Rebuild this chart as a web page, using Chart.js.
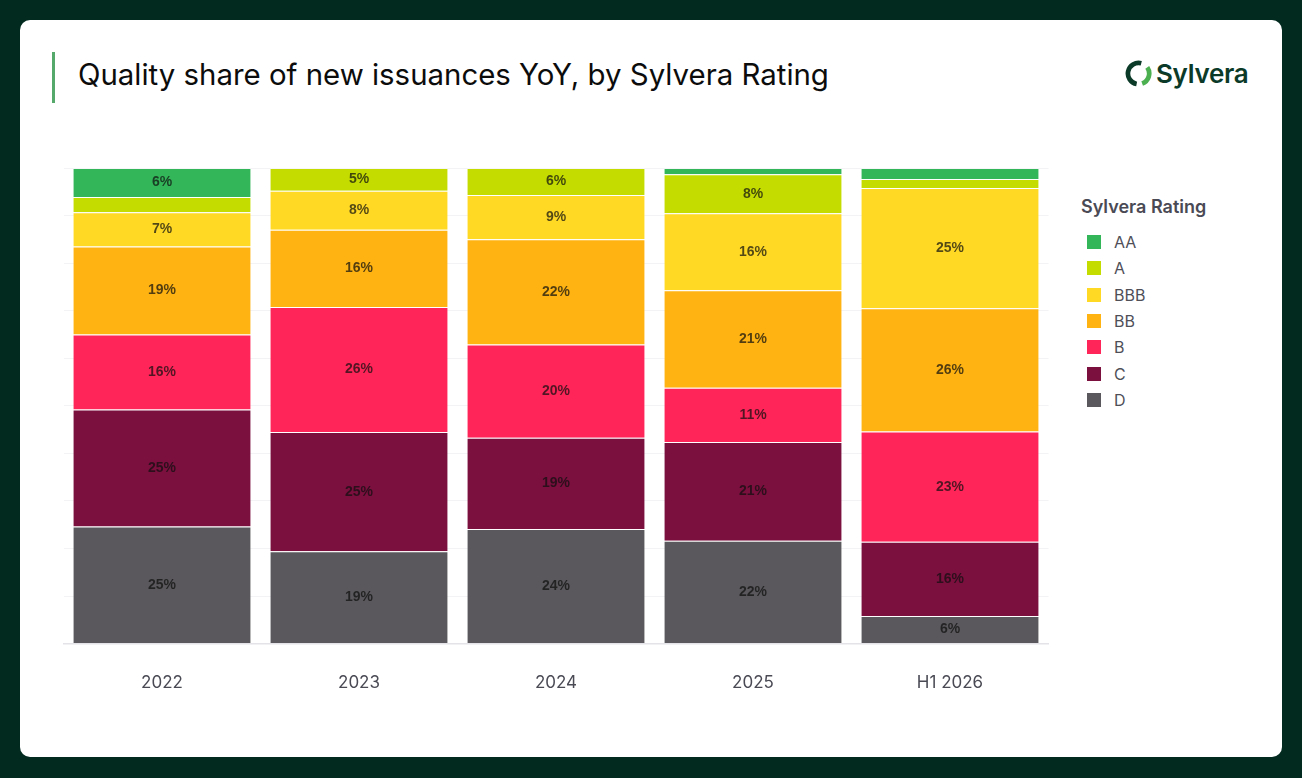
<!DOCTYPE html>
<html>
<head>
<meta charset="utf-8">
<script src="https://cdn.jsdelivr.net/npm/chart.js@4.4.1/dist/chart.umd.min.js"></script>
<style>
  html, body { margin: 0; padding: 0; }
  body { width: 1302px; height: 778px; background: #022a1f; position: relative; overflow: hidden; font-family: Inter, "Noto Sans", sans-serif; }
  #card { position: absolute; left: 20px; top: 20px; width: 1262px; height: 737px; background: #ffffff; border-radius: 10px; }
  #accent { position: absolute; left: 52px; top: 52px; width: 3px; height: 51px; background: #55a96b; }
  #title { position: absolute; left: 78px; top: 57px; font-size: 29.4px; font-weight: 400; color: #0c0c0c; white-space: nowrap; line-height: 1.2; }
  #logo { position: absolute; left: 1125px; top: 58px; display: flex; align-items: center; }
  #logo span { font-family: Inter, sans-serif; font-weight: 600; font-size: 26px; color: #0c3a28; margin-left: 4px; letter-spacing: -0.3px; }
  #wrap { position: absolute; left: 50px; top: 140px; width: 1010px; height: 610px; }
  #legend { position: absolute; left: 1081px; top: 196px; font-family: Inter, sans-serif; }
  #legend .lt { font-size: 18px; font-weight: 600; color: #4a4a55; margin-bottom: 12px; }
  #legend .it { display: flex; align-items: center; height: 26.3px; }
  #legend .sw { width: 14px; height: 14px; margin-left: 6px; margin-right: 13px; }
  #legend .lb { font-size: 16px; color: #4f4f58; }
</style>
</head>
<body>
<div id="card"></div>
<div id="accent"></div>
<div id="title">Quality share of new issuances YoY, by Sylvera Rating</div>
<div id="logo">
  <svg width="27" height="27" viewBox="0 0 24 24">
    <path d="M14.46 2.82 A9.5 9.5 0 1 0 10.35 21.36" fill="none" stroke="#0c3a28" stroke-width="4.2"/>
    <path d="M19.78 6.55 A9.5 9.5 0 0 1 15.25 20.93" fill="none" stroke="#4caf50" stroke-width="4.2"/>
  </svg>
  <span>Sylvera</span>
</div>
<div id="wrap"><canvas id="c"></canvas></div>
<div id="legend"></div>
<script>
// ---- data ----
const categories = ["2022", "2023", "2024", "2025", "H1 2026"];
const ratings = ["AA", "A", "BBB", "BB", "B", "C", "D"];
const AA  = [6.1, 0,    0,    1.3,  2.3];
const A   = [3.2, 4.8,  5.7,  8.2,  1.9];
const BBB = [7.2, 8.2,  9.3,  16.2, 25.3];
const BB  = [18.5, 16.2, 22.1, 20.5, 25.9];
const B   = [15.8, 26.3, 19.6, 11.4, 23.2];
const C   = [24.6, 25.1, 19.2, 20.8, 15.6];
const D   = [24.6, 19.4, 24.1, 21.6, 5.8];
const yTicks = [0, 10, 20, 30, 40, 50, 60, 70, 80, 90, 100];

const colors = {
  AA: "#33b65a", A: "#c4dc00", BBB: "#ffd924", BB: "#ffb312",
  B: "#ff2558", C: "#7b0f3e", D: "#5a585c"
};
const seriesByRating = { AA, A, BBB, BB, B, C, D };

// stack bottom-up: D first
const stackOrder = ["D", "C", "B", "BB", "BBB", "A", "AA"];
const datasets = stackOrder.map(r => ({
  label: r,
  data: seriesByRating[r],
  backgroundColor: colors[r],
  borderColor: "rgba(255,255,255,0.3)",
  borderWidth: { top: 1, bottom: 0, left: 0, right: 0 },
  borderSkipped: false,
  categoryPercentage: 0.9,
  barPercentage: 1.0
}));

// ---- inline data label plugin ----
const valueLabels = {
  id: "valueLabels",
  afterDatasetsDraw(chart) {
    const ctx = chart.ctx;
    ctx.save();
    ctx.font = "bold 14px 'Liberation Sans', Arial, sans-serif";
    ctx.fillStyle = "rgba(15,15,15,0.72)";
    ctx.textAlign = "center";
    ctx.textBaseline = "middle";
    chart.data.datasets.forEach((ds, di) => {
      const meta = chart.getDatasetMeta(di);
      meta.data.forEach((bar, i) => {
        const v = ds.data[i];
        if (v < 4) return;
        const p = bar.getProps(["x", "y", "base"], true);
        ctx.fillText(Math.round(v) + "%", p.x, (p.y + p.base) / 2);
      });
    });
    ctx.restore();
  }
};

new Chart(document.getElementById("c"), {
  type: "bar",
  data: { labels: categories, datasets },
  options: {
    responsive: true,
    maintainAspectRatio: false,
    animation: false,
    layout: { padding: { left: 13.5, right: 11.5, top: 28, bottom: 28 } },
    plugins: { legend: { display: false }, tooltip: { enabled: false } },
    scales: {
      x: {
        stacked: true,
        grid: { display: false, drawTicks: false },
        border: { display: true, color: "#e4e4e8", width: 1.5 },
        ticks: { color: "#4a4a55", padding: 29, font: { family: "Inter, sans-serif", size: 17 } }
      },
      y: {
        stacked: true,
        min: 0, max: 100,
        afterBuildTicks(scale) { scale.ticks = yTicks.map(v => ({ value: v })); },
        grid: { color: "#f3f3f6", drawTicks: false },
        border: { display: false },
        ticks: { display: false }
      }
    }
  },
  plugins: [valueLabels]
});

// ---- HTML legend from arrays ----
const lg = document.getElementById("legend");
const t = document.createElement("div");
t.className = "lt"; t.textContent = "Sylvera Rating";
lg.appendChild(t);
ratings.forEach(r => {
  const it = document.createElement("div"); it.className = "it";
  const sw = document.createElement("div"); sw.className = "sw"; sw.style.background = colors[r];
  const lb = document.createElement("div"); lb.className = "lb"; lb.textContent = r;
  it.appendChild(sw); it.appendChild(lb); lg.appendChild(it);
});
</script>
</body>
</html>
